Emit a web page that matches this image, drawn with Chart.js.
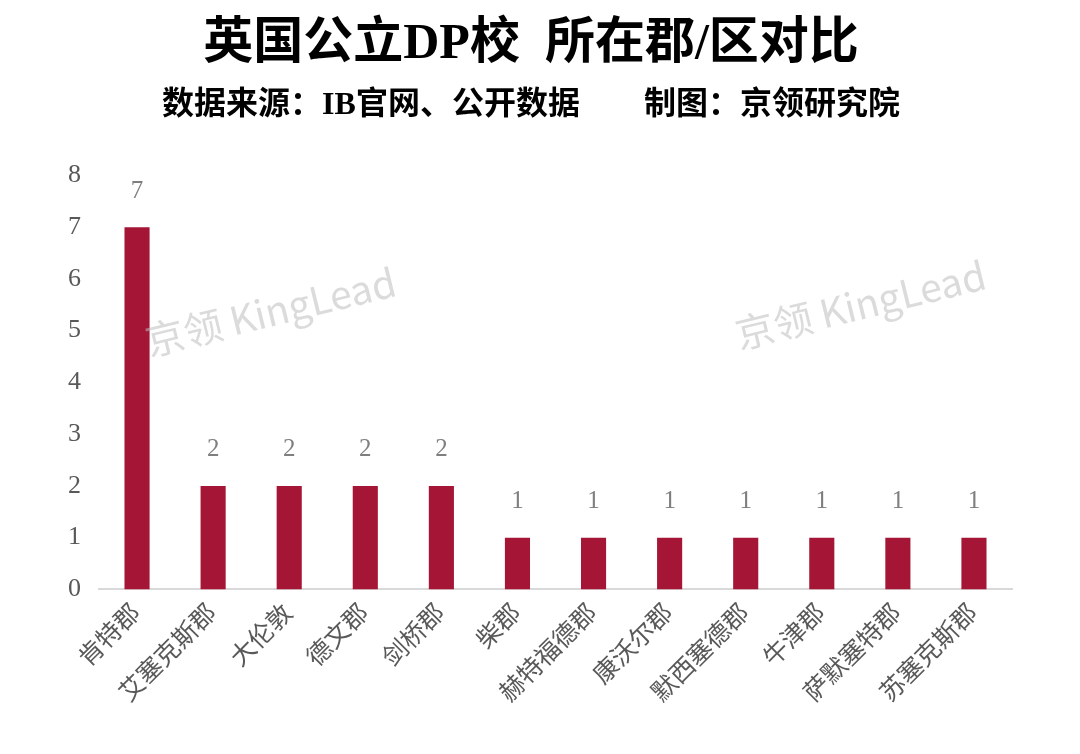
<!DOCTYPE html>
<html>
<head>
<meta charset="utf-8">
<script src="https://cdn.jsdelivr.net/npm/chart.js@4.4.0/dist/chart.umd.min.js"></script>
<style>
  html, body { margin: 0; padding: 0; background: #ffffff; }
  #wrap { width: 1080px; height: 754px; }
</style>
</head>
<body>
<div id="wrap"><canvas id="c" width="1080" height="754"></canvas></div>
<script>
// 数据
const categories = ['肯特郡', '艾塞克斯郡', '大伦敦', '德文郡', '剑桥郡', '柴郡', '赫特福德郡', '康沃尔郡', '默西塞德郡', '牛津郡', '萨默塞特郡', '苏塞克斯郡'];
const schoolCounts = [7, 2, 2, 2, 2, 1, 1, 1, 1, 1, 1, 1];
const yTicks = [0, 1, 2, 3, 4, 5, 6, 7, 8];

const SERIF = "'Liberation Serif', 'DejaVu Serif', 'Noto Sans CJK SC', serif";
const CJK = "'Noto Sans CJK SC', sans-serif";

// 柱顶数值标签
const valueLabels = {
    id: 'valueLabels',
    afterDatasetsDraw(chart) {
        const ctx = chart.ctx;
        const meta = chart.getDatasetMeta(0);
        ctx.save();
        ctx.fillStyle = '#7f7f7f';
        ctx.font = '25px ' + SERIF;
        ctx.textAlign = 'center';
        ctx.textBaseline = 'middle';
        meta.data.forEach((bar, i) => {
            ctx.fillText(String(schoolCounts[i]), bar.x, bar.y - 36);
        });
        ctx.restore();
    }
};

// 水印
const watermark = {
    id: 'watermark',
    afterDraw(chart) {
        const ctx = chart.ctx;
        ctx.save();
        ctx.fillStyle = 'rgba(190,190,190,0.55)';
        ctx.font = '39px ' + CJK;
        ctx.textBaseline = 'middle';
        [[146, 342], [736, 335]].forEach(([x, y]) => {
            ctx.save();
            ctx.translate(x, y);
            ctx.rotate(-0.24);
            ctx.fillText('京领 KingLead', 0, 0);
            ctx.restore();
        });
        ctx.restore();
    }
};

new Chart(document.getElementById('c').getContext('2d'), {
    type: 'bar',
    data: {
        labels: categories,
        datasets: [{
            data: schoolCounts,
            backgroundColor: '#a51535',
            borderWidth: 0,
            barPercentage: 0.33,
            categoryPercentage: 1.0
        }]
    },
    options: {
        responsive: false,
        animation: false,
        devicePixelRatio: 1,
        layout: { padding: { left: 50, right: 68, top: 0, bottom: 35 } },
        plugins: {
            legend: { display: false },
            tooltip: { enabled: false },
            title: {
                display: true,
                text: ['英国公立DP校  所在郡/区对比'],
                color: '#000000',
                font: { family: SERIF, size: 50, weight: 'bold' },
                padding: { top: 15, bottom: 0 }
            },
            subtitle: {
                display: true,
                text: '数据来源：IB官网、公开数据        制图：京领研究院',
                color: '#000000',
                font: { family: SERIF, size: 32, weight: 'bold' },
                padding: { top: 12, bottom: 50 }
            }
        },
        scales: {
            x: {
                grid: { display: false, drawTicks: false },
                border: { display: true, color: '#d9d9d9', width: 2 },
                ticks: {
                    color: '#595959',
                    font: { family: SERIF, size: 25 },
                    maxRotation: 45,
                    minRotation: 45,
                    padding: 10,
                    autoSkip: false
                }
            },
            y: {
                min: 0,
                max: 8,
                afterBuildTicks(axis) { axis.ticks = yTicks.map(v => ({ value: v })); },
                grid: { display: false, drawTicks: false },
                border: { display: false },
                ticks: {
                    color: '#595959',
                    font: { family: SERIF, size: 26 },
                    padding: 18
                }
            }
        }
    },
    plugins: [valueLabels, watermark]
});
</script>
</body>
</html>
